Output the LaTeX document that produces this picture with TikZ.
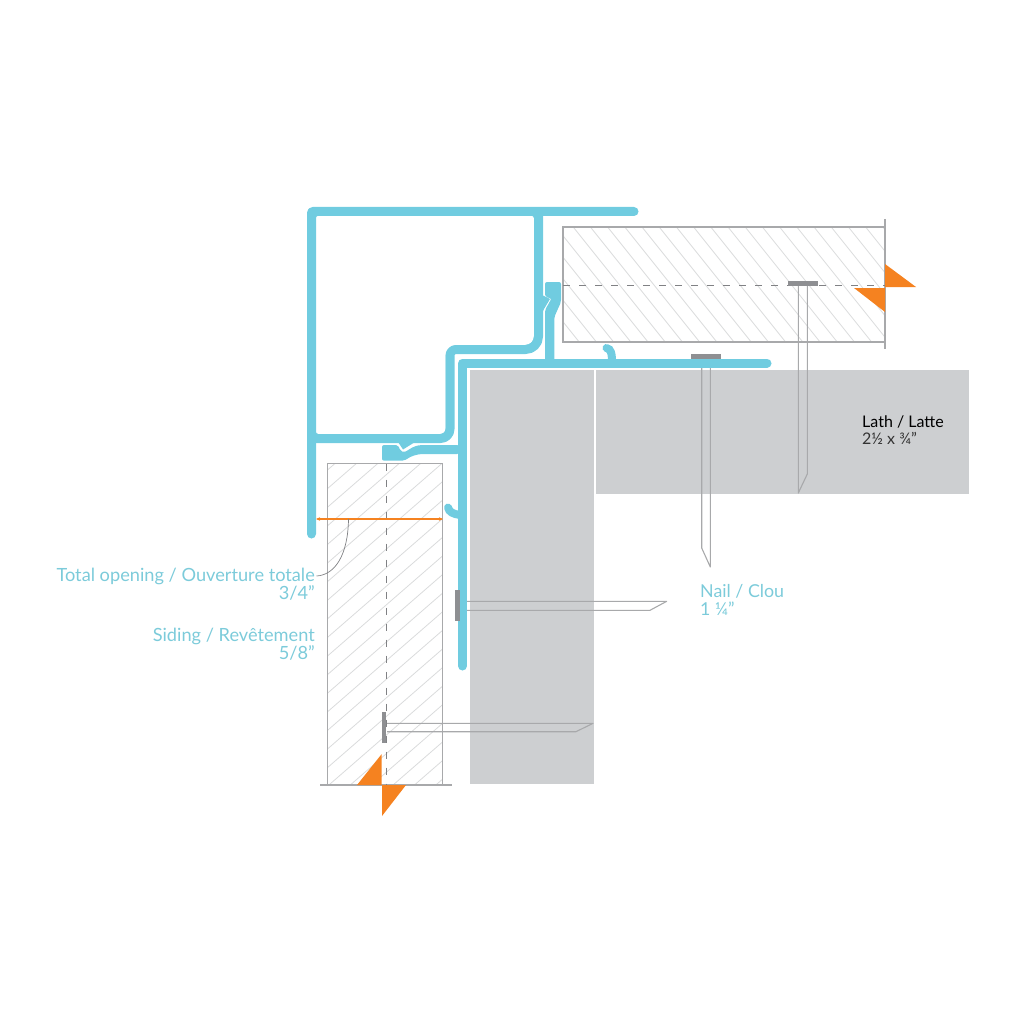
\documentclass[tikz,border=0pt]{standalone}
\usepackage{fontspec}
\usetikzlibrary{arrows.meta}
\setmainfont{Lato}
\definecolor{pblue}{HTML}{70CCE0}
\definecolor{lblue}{HTML}{7CCBDA}
\definecolor{lathgray}{HTML}{CDCFD1}
\definecolor{hatchgray}{HTML}{DADBDC}
\definecolor{linegray}{HTML}{A8A9AB}
\definecolor{nailgray}{HTML}{8E8F92}
\definecolor{dashgray}{HTML}{808184}
\definecolor{orng}{HTML}{F58220}
\tikzset{
  prof/.style={draw=pblue,line width=9pt,line cap=round,line join=round},
  hook/.style={draw=pblue,line width=8pt,line cap=round},
  pfill/.style={fill=pblue},
  lath/.style={fill=lathgray},
  hatchline/.style={draw=hatchgray,line width=0.8pt},
  outline/.style={draw=linegray,line width=1.1pt},
  nail/.style={draw=linegray,line width=1.1pt,line join=round},
  nailhead/.style={fill=nailgray},
  cut/.style={draw=dashgray,line width=1.1pt,dash pattern=on 7pt off 9pt},
  tri/.style={fill=orng},
  lab/.style={font=\fontsize{18.2}{20}\selectfont,text=lblue,inner sep=0pt},
  labr/.style={lab,anchor=base east},
  labl/.style={lab,font=\fontsize{17.8}{20}\selectfont,anchor=base west},
}
\begin{document}
\begin{tikzpicture}[x=1pt,y=-1pt]
\useasboundingbox (0,0) rectangle (1024,1024);
% gray laths
\fill[lath] (470,370) rectangle (594,784);
\fill[lath] (596,370) rectangle (969,494);
% upper hatched board
\begin{scope}
\clip (563,227) rectangle (885,342);
\foreach \k in {0,...,24} {
  \draw[hatchline] ({470+17.2*\k},227) -- ({470+17.2*\k+92},342);
}
\end{scope}
\draw[outline] (885,219) -- (885,349);
\draw[outline] (885,227) -- (563,227) -- (563,342) -- (885,342);
% left hatched board
\begin{scope}
\clip (327.5,463.5) rectangle (442.5,785);
\foreach \k in {0,...,24} {
  \draw[hatchline] (327.5,{470+18.6*\k}) -- (442.5,{470+18.6*\k-100});
}
\end{scope}
\draw[outline] (327.5,785) -- (327.5,463.5) -- (442.5,463.5) -- (442.5,785);
\draw[outline] (320,785) -- (452,785);
% cut lines
\draw[cut] (563,285.5) -- (885,285.5);
\draw[cut] (386.5,463.5) -- (386.5,785);
% nails
\draw[nail] (798.3,286) -- (798.3,493) -- (807.3,474) -- (807.3,286);
\fill[nailhead] (787.7,281) rectangle (818,285.5);
\draw[nail] (701.7,358) -- (701.7,548) -- (710.3,567) -- (710.3,358);
\draw[nail] (467,601.3) -- (666.7,601.3) -- (650,610.3) -- (467,610.3);
\draw[nail] (387,723.3) -- (593,723.3) -- (576,731.7) -- (387,731.7);
% orange section marks
\fill[tri] (885,264) -- (885,287) -- (916,287) -- cycle;
\fill[tri] (885,288) -- (854,288) -- (885,312) -- cycle;
\fill[tri] (381.7,754) -- (357,785) -- (381.7,785) -- cycle;
\fill[tri] (382,785) -- (406,785) -- (382,816) -- cycle;
% frame profile
\fill[pblue] (315.7,215.7) -- (534,215.7) -- (534,345) -- (445.7,345) -- (445.7,434) -- (315.7,434) -- cycle;
\fill[white,rounded corners=3pt] (315.7,215.7) -- (534,215.7) [rounded corners=9pt] -- (534,345) [rounded corners=10pt] -- (445.7,345) [rounded corners=5pt] -- (445.7,434) [rounded corners=3pt] -- (315.7,434) -- cycle;
\draw[prof,rounded corners=1pt] (311.5,534) -- (311.5,211.5) -- (634,211.5);
\draw[prof,line cap=butt,rounded corners=13pt] (538.5,212) -- (538.5,349.5) [rounded corners=6pt] -- (450,349.5) [rounded corners=9.5pt] -- (450,438.5) -- (312,438.5);
% bulge on the frame web
\fill[pfill] (543,295.5) -- (550,299) -- (544,309) -- (543,311) -- cycle;
% bump under the frame bar
\fill[pfill] (398,442) -- (403,449.5) -- (415,442) -- cycle;
% cover-frame profile
\draw[prof] (462.5,666) -- (462.5,363) -- (767,363);
% stem and head at top
\fill[pfill,rounded corners=2pt] (545,363) -- (545,310) -- (551.5,298.5) -- (545,296.8) -- (545,282) -- (561,282) -- (561,302) -- (554.3,317) -- (554.3,363) -- cycle;
% head at bottom
\fill[pfill,rounded corners=2pt] (382,445) -- (398,445) -- (400.5,451) -- (404,452.5) -- (414,446.5) -- (420,445) -- (459,445) -- (459,454) -- (420,454) -- (412,456) -- (404,460.7) -- (382,460.7) -- cycle;
% hooks
\draw[hook] (606.5,348) .. controls (611,349) and (612,353) .. (612,363);
\draw[hook] (448,507.5) .. controls (449,512) and (453,514) .. (460,515);
% heads over the profile
\fill[nailhead] (691,354) rectangle (721,358.5);
\fill[nailhead] (455,590) rectangle (459.5,621);
\fill[nailhead] (381.5,712) rectangle (386,742.7);
% dimension
\draw[orng,line width=1.2pt,{Stealth[length=4pt,width=3.5pt]}-{Stealth[length=4pt,width=3.5pt]}] (316,519) -- (443,519);
% texts
\node[labr] (total) at (315,581) {Total opening / Ouverture totale};
\node[labr] (totalv) at (315,599) {3/4”};
\node[labr] (siding) at (315,641) {Siding / Revêtement};
\node[labr] (sidingv) at (315,659) {5/8”};
\node[labl] (nailt) at (700,597) {Nail / Clou};
\node[labl] (nailv) at (700,615) {1 ¼”};
\node[labl,text=black,font=\fontsize{16}{20}\selectfont] (latht) at (862,427) {Lath / Latte};
\node[labl,text=black!80,font=\fontsize{16}{20}\selectfont] (lathv) at (862,444) {2½ x ¾”};
\coordinate (dimpt) at (348.5,519);
\coordinate (leadstart) at (316.5,576);
\draw[draw=dashgray,line width=0.7pt] (leadstart) .. controls (335,575) and (348,555) .. (dimpt);
\end{tikzpicture}
\end{document}
